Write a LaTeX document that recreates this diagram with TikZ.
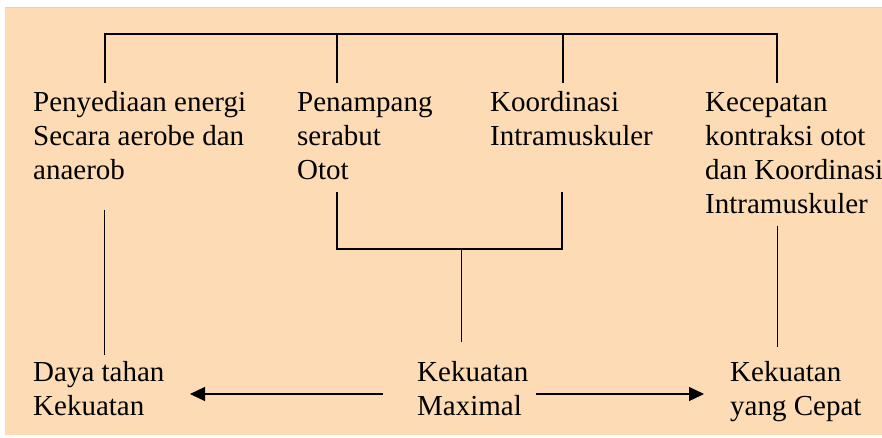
\documentclass[tikz,border=0pt]{standalone}
\usepackage{fontspec}
\setmainfont{Liberation Serif}
\usepackage{xcolor}
\usepackage{tikz}
\usetikzlibrary{arrows.meta, positioning}

\definecolor{peach}{RGB}{253,219,180}
\definecolor{peachedge}{RGB}{246,206,166}

\begin{document}
\begin{tikzpicture}[
    x=1pt, y=-1pt,
    label/.style={inner sep=0pt, anchor=base west, align=left, font=\fontsize{29}{34}\selectfont},
    link/.style={line width=1.2pt},
    thinlink/.style={line width=1pt},
    arrow/.style={line width=1.2pt, -{Triangle[length=15pt,width=14pt]}},
]

% Frame
\useasboundingbox (0,0) rectangle (882,437);
\fill[peach] (5,7) rectangle (882,435);
\draw[peachedge, line width=1pt] (5,7) -- (882,7);

% Upper row (placed at the baseline of the last line)
\node[label] (energi) at (33,179) {Penyediaan energi\\Secara aerobe dan\\anaerob};
\node[label] (serabut) at (297,179) {Penampang\\serabut\\Otot};
\node[label] (intra) at (490,145) {Koordinasi\\Intramuskuler};
\node[label] (kontraksi) at (705,213) {Kecepatan\\kontraksi otot\\dan Koordinasi\\Intramuskuler};

% Lower row
\node[label] (daya) at (33,415) {Daya tahan\\Kekuatan};
\node[label] (maximal) at (417,415) {Kekuatan\\Maximal};
\node[label] (cepat) at (730,415) {Kekuatan\\yang Cepat};

% Line ends
\coordinate (t1) at (105,83);
\coordinate (t2) at (337,83);
\coordinate (t3) at (563,83);
\coordinate (t4) at (777,83);
\coordinate (bus) at (0,34);
\coordinate (m1) at (337,192);
\coordinate (m2) at (562,192);
\coordinate (join) at (461,249);
\coordinate (mx) at (461,342);
\coordinate (l1) at (104,210);
\coordinate (l2) at (104,355);
\coordinate (r1) at (777,226);
\coordinate (r2) at (777,347);

% Top bus
\draw[link] (t1) -- (t1 |- bus) -| (t4);
\draw[link] (t2) -- (t2 |- bus);
\draw[link] (t3) -- (t3 |- bus);

% Middle join
\draw[link] (m1) -- (m1 |- join) -| (m2);
\draw[thinlink] (join) -- (mx);

% Long verticals
\draw[thinlink] (l1) -- (l2);
\draw[thinlink] (r1) -- (r2);

% Arrows
\draw[arrow] (383,394) coordinate (a1) -- (190,394) coordinate (a2);
\draw[arrow] (536,394) coordinate (b1) -- (704,394) coordinate (b2);

\end{tikzpicture}
\end{document}
